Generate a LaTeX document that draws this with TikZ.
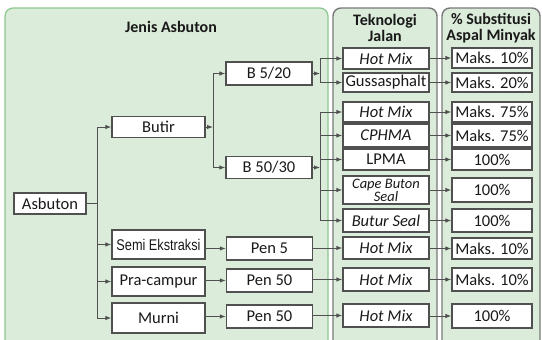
\documentclass[tikz,border=0pt]{standalone}
\usepackage{fontspec}
\setmainfont{Carlito}
\newfontfamily\narrowfont[FakeStretch=0.82]{Liberation Sans}
\usetikzlibrary{arrows.meta}

\definecolor{panelfill}{RGB}{220,236,218}
\definecolor{panelgreen}{RGB}{140,200,140}
\definecolor{panelgray}{RGB}{120,120,120}
\definecolor{boxline}{RGB}{80,80,80}
\definecolor{textgray}{RGB}{25,25,25}

\tikzset{
  box/.style={draw=boxline, line width=1.2pt, fill=white, inner sep=0pt,
    text=textgray, font=\fontsize{16.5}{15}\selectfont},
  asbbox/.style={box, minimum width=93pt, minimum height=21pt},
  gradebox/.style={box, minimum width=86pt, minimum height=22pt},
  tekbox/.style={box, minimum width=86pt, minimum height=21pt, font=\fontsize{16.5}{15}\selectfont\itshape},
  subbox/.style={box, minimum width=80pt, minimum height=21pt},
  conn/.style={draw=boxline, line width=1pt},
  arr/.style={conn, -{Latex[length=6pt,width=4.5pt]}},
  header/.style={font=\fontsize{16}{16}\selectfont\bfseries, text=textgray,
    align=center, inner sep=0pt}
}

\begin{document}
\begin{tikzpicture}[x=1pt,y=-1pt]
\useasboundingbox (0,0) rectangle (542,340);

% panels
\fill[panelfill, rounded corners=8pt] (5,370) -- (5,8) -- (328,8) -- (328,370) -- cycle;
\draw[panelgreen, line width=1.2pt, rounded corners=8pt] (5,370) -- (5,8) -- (328,8) -- (328,370);
\fill[panelfill, rounded corners=8pt] (333,370) -- (333,8) -- (437,8) -- (437,370) -- cycle;
\draw[panelgray, line width=1.4pt, rounded corners=8pt] (333,370) -- (333,8) -- (437,8) -- (437,370);
\fill[panelfill, rounded corners=8pt] (442,370) -- (442,8) -- (540,8) -- (540,370) -- cycle;
\draw[panelgray, line width=1.4pt, rounded corners=8pt] (442,370) -- (442,8) -- (540,8) -- (540,370);

\node[header] (hjenis) at (171,27) {Jenis Asbuton};
\node[header] (htek) at (385,28) {Teknologi\\Jalan};
\node[header] (hsub) at (491,28) {\% Substitusi\\Aspal Minyak};

% jenis asbuton
\node[box, minimum width=72pt, minimum height=21pt] (asbuton) at (50,203.5) {Asbuton};
\node[asbbox] (butir) at (158.5,127) {Butir};
\node[asbbox, minimum height=29pt, font=\narrowfont\fontsize{15.5}{15}\selectfont] (semi) at (158.5,244.5) {Semi Ekstraksi};
\node[asbbox, minimum height=29pt] (pra) at (158.5,281.5) {Pra-campur};
\node[asbbox, minimum height=30pt] (murni) at (158.5,318) {Murni};

\node[gradebox, minimum height=23pt] (bfive) at (269,73.5) {B 5/20};
\node[gradebox] (bfifty) at (269,167.5) {B 50/30};
\node[gradebox, minimum height=23pt] (penfive) at (269.5,248.5) {Pen 5};
\node[gradebox, minimum height=23pt] (penfiftya) at (269.5,280.5) {Pen 50};
\node[gradebox, minimum height=23pt] (penfiftyb) at (269.5,316.5) {Pen 50};

% teknologi jalan
\node[tekbox] (hmA) at (386,58.5) {Hot Mix};
\node[tekbox, minimum height=19pt, font=\fontsize{16.5}{15}\selectfont] (guss) at (386,82.5) {Gussasphalt};
\node[tekbox, minimum height=20pt] (hmB) at (386,112) {Hot Mix};
\node[tekbox, minimum height=23pt] (cphma) at (386,135.5) {CPHMA};
\node[tekbox, font=\fontsize{16.5}{15}\selectfont] (lpma) at (386,159.5) {LPMA};
\node[tekbox, minimum height=28pt, align=center, font=\fontsize{14.5}{13}\selectfont\itshape] (cape) at (386,190) {Cape Buton\\Seal};
\node[tekbox, minimum height=23pt] (butur) at (386,220.5) {Butur Seal};
\node[tekbox, minimum height=22pt] (hmC) at (386,248) {Hot Mix};
\node[tekbox, minimum height=23pt] (hmD) at (386,279.5) {Hot Mix};
\node[tekbox, minimum height=23pt] (hmE) at (386,315.5) {Hot Mix};

% substitusi
\node[subbox, minimum height=20pt] (sA) at (492,58) {Maks. 10\%};
\node[subbox, minimum height=19pt] (sB) at (492,82.5) {Maks. 20\%};
\node[subbox, minimum height=20pt] (sC) at (492,112) {Maks. 75\%};
\node[subbox, minimum height=23pt] (sD) at (492,135.5) {Maks. 75\%};
\node[subbox] (sE) at (492,159.5) {100\%};
\node[subbox, minimum height=24pt] (sF) at (492,190) {100\%};
\node[subbox, minimum height=23pt] (sG) at (492,220.5) {100\%};
\node[subbox] (sH) at (492,248.5) {Maks. 10\%};
\node[subbox, minimum height=23pt] (sI) at (492,279.5) {Maks. 10\%};
\node[subbox, minimum height=24pt] (sJ) at (492,316) {100\%};

% connectors
\coordinate (asbj) at (97,203.5);
\draw[conn] (asbuton.east) -- (asbj);
\draw[conn] (asbj |- butir) -- (asbj |- murni);
\foreach \n in {butir,semi,pra,murni}
  \draw[arr] (asbj |- \n) -- (\n.west);

\coordinate (butj) at (213,127);
\draw[arr] (butir.east) -- (butj);
\draw[conn] (butj |- bfive) -- (butj |- bfifty);
\draw[arr] (butj |- bfive) -- (bfive.west);
\draw[arr] (butj |- bfifty) -- (bfifty.west);

\coordinate (bfivej) at (320,73.5);
\draw[arr] (bfive.east) -- (bfivej);
\draw[conn] (bfivej |- hmA) -- (bfivej |- guss);
\foreach \n in {hmA,guss}
  \draw[arr] (bfivej |- \n) -- (\n.west);

\coordinate (bfiftyj) at (320,167.5);
\draw[arr] (bfifty.east) -- (bfiftyj);
\draw[conn] (bfiftyj |- hmB) -- (bfiftyj |- butur);
\foreach \n in {hmB,cphma,lpma,cape,butur}
  \draw[arr] (bfiftyj |- \n) -- (\n.west);

\draw[arr] (semi.east |- penfive) -- (penfive.west);
\draw[arr] (pra.east |- penfiftya) -- (penfiftya.west);
\draw[arr] (murni.east |- penfiftyb) -- (penfiftyb.west);
\draw[arr] (penfive.east |- hmC) -- (hmC.west);
\draw[arr] (penfiftya.east |- hmD) -- (hmD.west);
\draw[arr] (penfiftyb.east |- hmE) -- (hmE.west);

\foreach \a/\b in {hmA/sA,guss/sB,hmB/sC,cphma/sD,lpma/sE,cape/sF,butur/sG,hmC/sH,hmD/sI,hmE/sJ}
  \draw[arr] (\a.east |- \b) -- (\b.west);
\end{tikzpicture}
\end{document}
